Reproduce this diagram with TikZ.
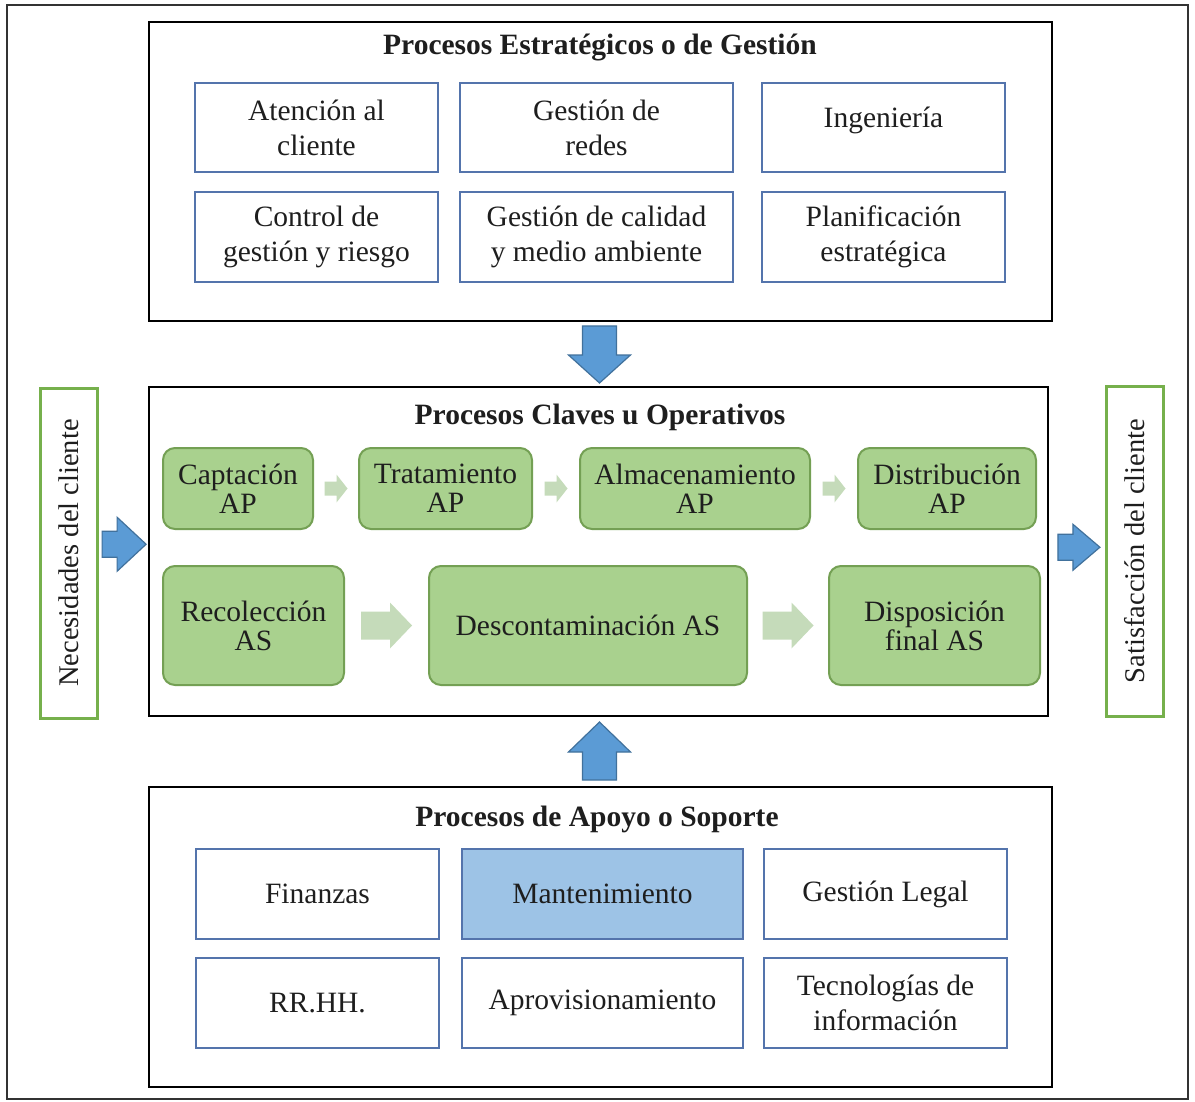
\documentclass[tikz,border=0pt]{standalone}
\usepackage{fontspec}
\setmainfont{Liberation Serif}
\usetikzlibrary{calc}

\definecolor{boxblue}{RGB}{84,116,172}
\definecolor{arrowblue}{RGB}{91,155,213}
\definecolor{arrowedge}{RGB}{65,113,156}
\definecolor{lightblue}{RGB}{157,195,230}
\definecolor{greenfill}{RGB}{169,209,142}
\definecolor{greenedge}{RGB}{116,160,84}
\definecolor{sidegreen}{RGB}{118,176,76}
\definecolor{palegreen}{RGB}{197,219,186}
\definecolor{inktext}{RGB}{30,30,30}

\begin{document}
\begin{tikzpicture}[x=1pt,y=-1pt,
  frame/.style={draw=black!80, line width=1.4pt},
  group/.style={draw=black, line width=2.6pt, fill=white, inner sep=0pt},
  grouptitle/.style={font=\bfseries\fontsize{29.5}{34}\selectfont, text=inktext},
  pbox/.style={draw=boxblue, line width=2pt, fill=white, inner sep=0pt,
    align=center, text=inktext, font=\fontsize{29.5}{35}\selectfont},
  gbox/.style={draw=greenedge, line width=2pt, fill=greenfill, rounded corners=12pt,
    inner sep=0pt, align=center, text=inktext, font=\fontsize{29.5}{29}\selectfont},
  sidebox/.style={draw=sidegreen, line width=3pt, fill=white, inner sep=0pt,
    rotate=90, text=inktext, font=\fontsize{28.5}{34}\selectfont},
  barrow/.style={fill=arrowblue, draw=arrowedge, line width=1.2pt, line join=miter},
  pics/smallarr/.style={code={
    \fill[palegreen] (-11.5,-7)--(0.5,-7)--(0.5,-14)--(11.5,0)--(0.5,14)--(0.5,7)--(-11.5,7)--cycle;}},
  pics/bigarr/.style={code={
    \fill[palegreen] (-25.5,-14)--(3.5,-14)--(3.5,-23)--(25.5,0)--(3.5,23)--(3.5,14)--(-25.5,14)--cycle;}},
  pics/downarr/.style={code={
    \draw[barrow] (-17,-28)--(17,-28)--(17,1)--(31,1)--(0,29)--(-31,1)--(-17,1)--cycle;}},
  pics/uparr/.style={code={
    \draw[barrow] (-17,28.5)--(17,28.5)--(17,0.5)--(31,0.5)--(0,-29.5)--(-31,0.5)--(-17,0.5)--cycle;}},
  pics/rightarrA/.style={code={
    \draw[barrow] (-21,-13)--(-6,-13)--(-6,-27)--(23,0)--(-6,27)--(-6,13)--(-21,13)--cycle;}},
  pics/rightarrB/.style={code={
    \draw[barrow] (-19,-13)--(-4,-13)--(-4,-23)--(23,0)--(-4,23)--(-4,13)--(-19,13)--cycle;}},
]
\useasboundingbox (0,0) rectangle (1195,1102);
\fill[white] (0,0) rectangle (1195,1102);
\draw[frame] (7,5) rectangle (1188,1099);

% ---------- strategic processes ----------
\node[group, minimum width=903, minimum height=299] (strat) at (600.5,171.5) {};
\node[grouptitle] (stratT) at (600,48) {Procesos Estratégicos o de Gestión};
\node[pbox, minimum width=243, minimum height=89] (atc) at (316.5,127.5) {Atención al\\cliente};
\node[pbox, minimum width=273, minimum height=89] (redes) at (596.5,127.5) {Gestión de\\redes};
\node[pbox, minimum width=243, minimum height=89] (ing) at (883.5,127.5) {\raisebox{-0.5pt}[0pt][0pt]{Ingeniería}};
\node[pbox, minimum width=243, minimum height=90] (ctrl) at (316.5,237) {Control de\\gestión y riesgo};
\node[pbox, minimum width=273, minimum height=90] (cal) at (596.5,237) {Gestión de calidad\\y medio ambiente};
\node[pbox, minimum width=243, minimum height=90] (plan) at (883.5,237) {Planificación\\estratégica};

% ---------- key / operative processes ----------
\node[group, minimum width=899, minimum height=329] (oper) at (598.5,551.5) {};
\node[grouptitle] (operT) at (600,417) {Procesos Claves u Operativos};
\node[gbox, minimum width=150, minimum height=81] (capt) at (238,488.5) {Captación\\AP};
\node[gbox, minimum width=173, minimum height=81] (trat) at (445.5,488.5) {Tratamiento\\AP};
\node[gbox, minimum width=230, minimum height=81] (alm) at (695,488.5) {Almacenamiento\\AP};
\node[gbox, minimum width=178, minimum height=81] (dist) at (947,488.5) {Distribución\\AP};
\node[gbox, minimum width=181, minimum height=119] (rec) at (253.5,625.5) {Recolección\\AS};
\node[gbox, minimum width=318, minimum height=119] (desc) at (588,625.5) {Descontaminación AS};
\node[gbox, minimum width=211, minimum height=119] (disp) at (934.5,625.5) {Disposición\\final AS};

\pic at ($(capt.east)!0.5!(trat.west)$) {smallarr};
\pic at ($(trat.east)!0.5!(alm.west)$) {smallarr};
\pic at ($(alm.east)!0.5!(dist.west)$) {smallarr};
\pic at ($(rec.east)!0.5!(desc.west)$) {bigarr};
\pic at ($(desc.east)!0.5!(disp.west)$) {bigarr};

% ---------- support processes ----------
\node[group, minimum width=903, minimum height=300] (apoyo) at (600.5,937) {};
\node[grouptitle] (apoyoT) at (597,819) {Procesos de Apoyo o Soporte};
\node[pbox, minimum width=243, minimum height=90] (fin) at (317.5,894) {Finanzas};
\node[pbox, minimum width=281, minimum height=90, fill=lightblue] (mant) at (602.5,894) {Mantenimiento};
\node[pbox, minimum width=243, minimum height=90] (legal) at (885.5,894) {Gestión Legal};
\node[pbox, minimum width=243, minimum height=90] (rrhh) at (317.5,1003) {RR.HH.};
\node[pbox, minimum width=281, minimum height=90] (aprov) at (602.5,1003) {Aprovisionamiento};
\node[pbox, minimum width=243, minimum height=90] (tec) at (885.5,1003) {Tecnologías de\\información};

% ---------- customer side ----------
\node[sidebox, minimum width=330, minimum height=57] (need) at (68.5,553) {Necesidades del cliente};
\node[sidebox, minimum width=330, minimum height=57] (sat) at (1134.5,551) {Satisfacción del cliente};

% ---------- block arrows between the groups ----------
\pic at ($(strat.south)!0.5!(oper.north)$) {downarr};
\pic at ($(apoyo.north)!0.5!(oper.south)$) {uparr};
\pic at ($($(need.south)!0.5!(oper.west)$)+(0,-8)$) {rightarrA};
\pic at ($($(oper.east)!0.5!(sat.north)$)+(0,-4)$) {rightarrB};
\end{tikzpicture}
\end{document}
